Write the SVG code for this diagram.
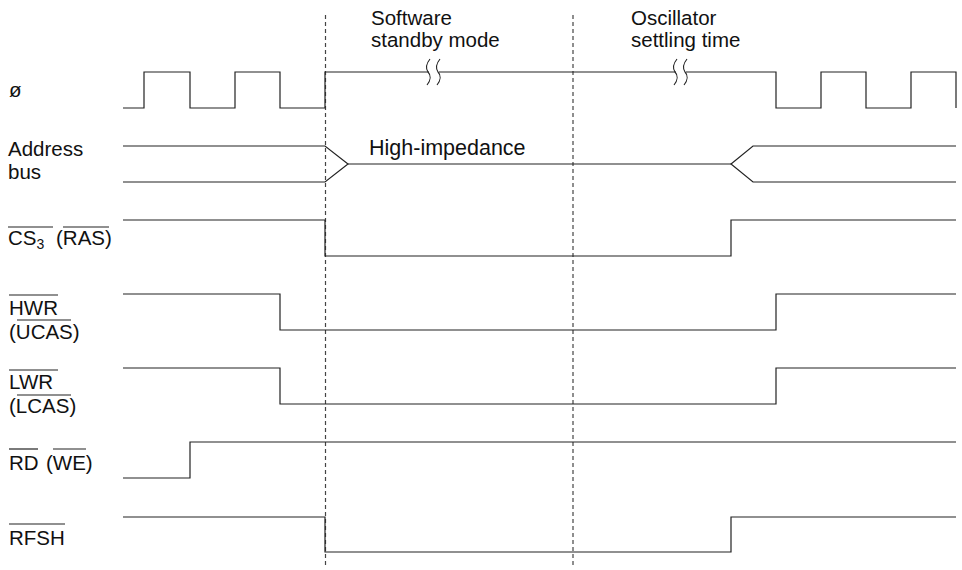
<svg xmlns="http://www.w3.org/2000/svg" width="962" height="570" viewBox="0 0 962 570">
<style>
text{font-family:"Liberation Sans",Arial,sans-serif;font-size:20.5px;fill:#111}
.sig{fill:none;stroke:#222;stroke-width:1.2}
.ov{stroke:#222;stroke-width:1.2}
.dash{fill:none;stroke:#444;stroke-width:1.2;stroke-dasharray:4 3}
.brk{fill:none;stroke:#222;stroke-width:1.1}
</style>
<rect width="962" height="570" fill="#fff"/>
<g id="guides">
<line class="dash" x1="325.5" y1="15" x2="325.5" y2="568"/>
<line class="dash" x1="573" y1="15" x2="573" y2="568"/>
</g>
<g id="phase-labels">
<text x="371" y="25">Software</text>
<text x="371" y="47">standby mode</text>
<text x="631" y="25">Oscillator</text>
<text x="631" y="47">settling time</text>
</g>
<g id="clock">
<text x="9" y="97">ø</text>
<path class="sig" d="M123,108 H144 V72 H190 V108 H235 V72 H280 V108 H325 V72 H776 V108 H821 V72 H866 V108 H911 V72 H956 V108"/>
<rect x="429" y="65" width="10" height="14" fill="#fff"/>
<rect x="676" y="65" width="10" height="14" fill="#fff"/>
<path class="brk" d="M430,59 C426,64 426,69 428,72 C431,75 431,80 427,85"/>
<path class="brk" d="M440,59 C436,64 436,69 438,72 C441,75 441,80 437,85"/>
<path class="brk" d="M677,59 C673,64 673,69 675,72 C678,75 678,80 674,85"/>
<path class="brk" d="M687,59 C683,64 683,69 685,72 C688,75 688,80 684,85"/>
</g>
<g id="address-bus">
<text x="8" y="156">Address</text>
<text x="8" y="179">bus</text>
<path class="sig" d="M123,146 H325 L348,164 L325,182 H123"/>
<path class="sig" d="M348,164 H731"/>
<path class="sig" d="M956,146 H753 L731,164 L753,182 H956"/>
<text x="369" y="155" style="font-size:21.5px">High-impedance</text>
</g>
<g id="cs3">
<text x="8" y="245">CS<tspan font-size="14" dy="4">3</tspan><tspan x="56" dy="-4">(RAS)</tspan></text>
<line class="ov" x1="8" y1="227" x2="53" y2="227"/>
<line class="ov" x1="63" y1="227" x2="109" y2="227"/>
<path class="sig" d="M123,220 H325 V256 H731 V220 H956"/>
</g>
<g id="hwr">
<text x="9" y="315">HWR</text>
<text x="9" y="339">(UCAS)</text>
<line class="ov" x1="9" y1="295" x2="58" y2="295"/>
<line class="ov" x1="17" y1="320" x2="71" y2="320"/>
<path class="sig" d="M123,294 H280 V330 H776 V294 H956"/>
</g>
<g id="lwr">
<text x="9" y="389">LWR</text>
<text x="9" y="413">(LCAS)</text>
<line class="ov" x1="9" y1="370" x2="58" y2="370"/>
<line class="ov" x1="17" y1="395" x2="71" y2="395"/>
<path class="sig" d="M123,368 H280 V404 H776 V368 H956"/>
</g>
<g id="rd">
<text x="9" y="470">RD <tspan x="46">(WE)</tspan></text>
<line class="ov" x1="9" y1="449" x2="38" y2="449"/>
<line class="ov" x1="53" y1="449" x2="86" y2="449"/>
<path class="sig" d="M123,478 H190 V442 H956"/>
</g>
<g id="rfsh">
<text x="9" y="545">RFSH</text>
<line class="ov" x1="9" y1="524" x2="65" y2="524"/>
<path class="sig" d="M123,517 H325 V552 H731 V517 H956"/>
</g>
</svg>
